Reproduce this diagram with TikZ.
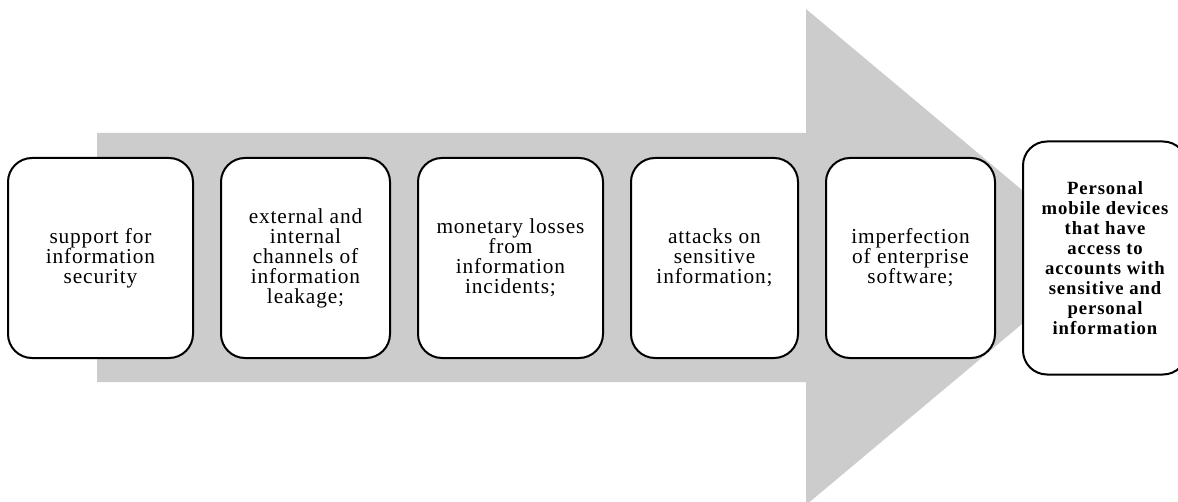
\documentclass[tikz,border=0pt]{standalone}
\usepackage{fontspec}
\usepackage{xcolor}
\usepackage{tikz}
\usetikzlibrary{positioning}
\newfontfamily\boxfont{Liberation Serif}[LetterSpace=4]
\newfontfamily\targetfont{Liberation Serif}[LetterSpace=5]
\definecolor{arrowgray}{RGB}{204,204,204}
\tikzset{
    threat/.style={rectangle, draw=black, line width=1.5pt, fill=white, rounded corners=18pt, align=center, minimum height=150pt, inner sep=3pt, font=\boxfont\fontsize{16}{15}\selectfont},
    target/.style={threat, minimum height=174.75pt, font=\targetfont\bfseries\fontsize{14}{15}\selectfont},
    bigarrow/.style={fill=arrowgray, draw=none}
}

\begin{document}
\begin{tikzpicture}[x=0.75pt, y=-0.75pt]
        \useasboundingbox (0,0) rectangle (1178,502);
        \clip (0,0) rectangle (1178,502);

        % Arrow behind the boxes
        \fill[bigarrow] (97,133) -- (806,133) -- (806,9) -- (1102,257) -- (806,505) -- (806,382) -- (97,382) -- cycle;

        % Boxes
        \node[threat, minimum width=138.75pt] (support) at (100.5,258) {support for\\information\\security};
        \node[threat, minimum width=126.75pt, right=19.5pt of support] (channels) {external and\\internal\\channels of\\information\\leakage;};
        \node[threat, minimum width=138.75pt, right=19.5pt of channels] (losses) {monetary losses\\from\\information\\incidents;};
        \node[threat, minimum width=125.25pt, right=19.5pt of losses] (attacks) {attacks on\\sensitive\\information;};
        \node[threat, minimum width=126.75pt, right=19.5pt of attacks] (software) {imperfection\\of enterprise\\software;};
        \node[target, minimum width=123pt, right=19.5pt of software] (devices) {Personal\\mobile devices\\that have\\access to\\accounts with\\sensitive and\\personal\\information};
    \end{tikzpicture}
\end{document}
